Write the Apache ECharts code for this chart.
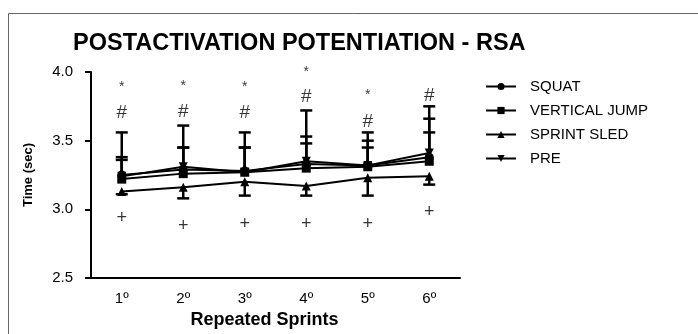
<!DOCTYPE html>
<html>
<head>
<meta charset="utf-8">
<script src="https://cdn.jsdelivr.net/npm/echarts@6/dist/echarts.min.js"></script>
<style>
  html, body { margin: 0; padding: 0; background: #fff; }
  #chart-container { width: 698px; height: 334px; }
</style>
</head>
<body>
<div id="chart-container"></div>
<script>
const categories = ['1º', '2º', '3º', '4º', '5º', '6º'];
const yTicks = [2.5, 3.0, 3.5, 4.0];

// means
const squat = [3.25, 3.29, 3.28, 3.33, 3.32, 3.38];
const verticalJump = [3.22, 3.26, 3.27, 3.30, 3.31, 3.35];
const sprintSled = [3.13, 3.16, 3.20, 3.17, 3.23, 3.24];
const pre = [3.24, 3.31, 3.27, 3.35, 3.32, 3.41];

// SD (drawn one way only, like the original)
const squatSd = [0.31, 0.32, 0.28, 0.39, 0.24, 0.37];
const verticalJumpSd = [0.16, 0.19, 0.18, 0.18, 0.19, 0.31];
const sprintSledSd = [0.02, 0.08, 0.10, 0.07, 0.13, 0.06];
const preSd = [0.12, 0.14, 0.18, 0.18, 0.13, 0.15];

// significance marks (y position of each symbol)
const starY = [3.89, 3.90, 3.89, 4.00, 3.83, 4.03];
const hashY = [3.70, 3.71, 3.70, 3.82, 3.64, 3.83];
const plusY = [2.94, 2.88, 2.89, 2.89, 2.89, 2.98];

const FONT = '"Liberation Sans", Arial, sans-serif';

function errData(mean, sd, dir) {
  return mean.map((m, i) => [i, m, m + dir * sd[i]]);
}

const errors = []
  .concat(errData(squat, squatSd, 1))
  .concat(errData(verticalJump, verticalJumpSd, 1))
  .concat(errData(pre, preSd, 1))
  .concat(errData(sprintSled, sprintSledSd, -1));

function renderErr(params, api) {
  const x = api.value(0);
  const p0 = api.coord([x, api.value(1)]);
  const p1 = api.coord([x, api.value(2)]);
  const half = 6;
  const style = { stroke: '#000', lineWidth: 2.5, fill: null };
  return {
    type: 'group',
    children: [
      { type: 'line', shape: { x1: p0[0], y1: p0[1], x2: p1[0], y2: p1[1] }, style: style },
      { type: 'line', shape: { x1: p1[0] - half, y1: p1[1], x2: p1[0] + half, y2: p1[1] }, style: style }
    ]
  };
}

function marks(ys, text, size) {
  return {
    type: 'scatter',
    data: ys.map((v, i) => [i, v]),
    symbolSize: 0,
    silent: true,
    label: {
      show: true, position: 'inside', formatter: text,
      color: '#000', fontFamily: FONT, fontSize: size
    },
    z: 5
  };
}

function lineSeries(name, data, symbol) {
  return {
    name: name, type: 'line', data: data,
    symbol: symbol, symbolSize: 9,
    lineStyle: { color: '#000', width: 2 },
    itemStyle: { color: '#000' },
    z: 3
  };
}

const chartDom = document.getElementById('chart-container');
const myChart = echarts.init(chartDom);
const option = {
  animation: false,
  textStyle: { fontFamily: FONT },
  title: {
    text: 'POSTACTIVATION POTENTIATION - RSA',
    left: 68, top: 27,
    textStyle: { fontFamily: FONT, fontSize: 23.5, fontWeight: 'bold', color: '#000' }
  },
  graphic: [{
    type: 'rect', shape: { x: 8.5, y: 13.5, width: 700, height: 330 },
    style: { fill: null, stroke: '#666', lineWidth: 1 }, silent: true
  }],
  legend: {
    orient: 'vertical', left: 480, top: 74,
    itemWidth: 30, itemHeight: 9, itemGap: 9,
    data: ['SQUAT', 'VERTICAL JUMP', 'SPRINT SLED', 'PRE'],
    textStyle: { fontFamily: FONT, fontSize: 15, color: '#000', padding: [0, 0, 0, 9] }
  },
  grid: { left: 91, right: 238, top: 72, bottom: 56 },
  xAxis: {
    type: 'category', data: categories, boundaryGap: true,
    name: 'Repeated Sprints', nameLocation: 'middle', nameGap: 32,
    nameTextStyle: { fontFamily: FONT, fontSize: 18, fontWeight: 'bold', color: '#000', padding: [0, 22, 0, 0] },
    axisLine: { lineStyle: { color: '#000', width: 2 } },
    axisTick: { alignWithLabel: true, length: 5, lineStyle: { color: '#000', width: 2 } },
    axisLabel: { fontFamily: FONT, fontSize: 15, color: '#000', margin: 13 }
  },
  yAxis: {
    type: 'value', min: yTicks[0], max: yTicks[yTicks.length - 1], interval: 0.5,
    name: 'Time (sec)', nameLocation: 'middle', nameGap: 56,
    nameTextStyle: { fontFamily: FONT, fontSize: 13, fontWeight: 'bold', color: '#000' },
    axisLine: { show: true, lineStyle: { color: '#000', width: 2 } },
    axisTick: { show: true, length: 6, lineStyle: { color: '#000', width: 2 } },
    splitLine: { show: false },
    axisLabel: { fontFamily: FONT, fontSize: 15, color: '#000', margin: 18, formatter: v => v.toFixed(1) }
  },
  series: [
    {
      type: 'custom', renderItem: renderErr, data: errors,
      encode: { x: 0, y: [1, 2] }, silent: true, z: 2
    },
    lineSeries('SQUAT', squat, 'circle'),
    lineSeries('VERTICAL JUMP', verticalJump, 'rect'),
    lineSeries('SPRINT SLED', sprintSled, 'triangle'),
    lineSeries('PRE', pre, 'path://M0,0 L10,0 L5,9 Z'),
    marks(starY, '*', 14),
    marks(hashY, '#', 19),
    marks(plusY, '+', 18)
  ]
};
myChart.setOption(option);
</script>
</body>
</html>
